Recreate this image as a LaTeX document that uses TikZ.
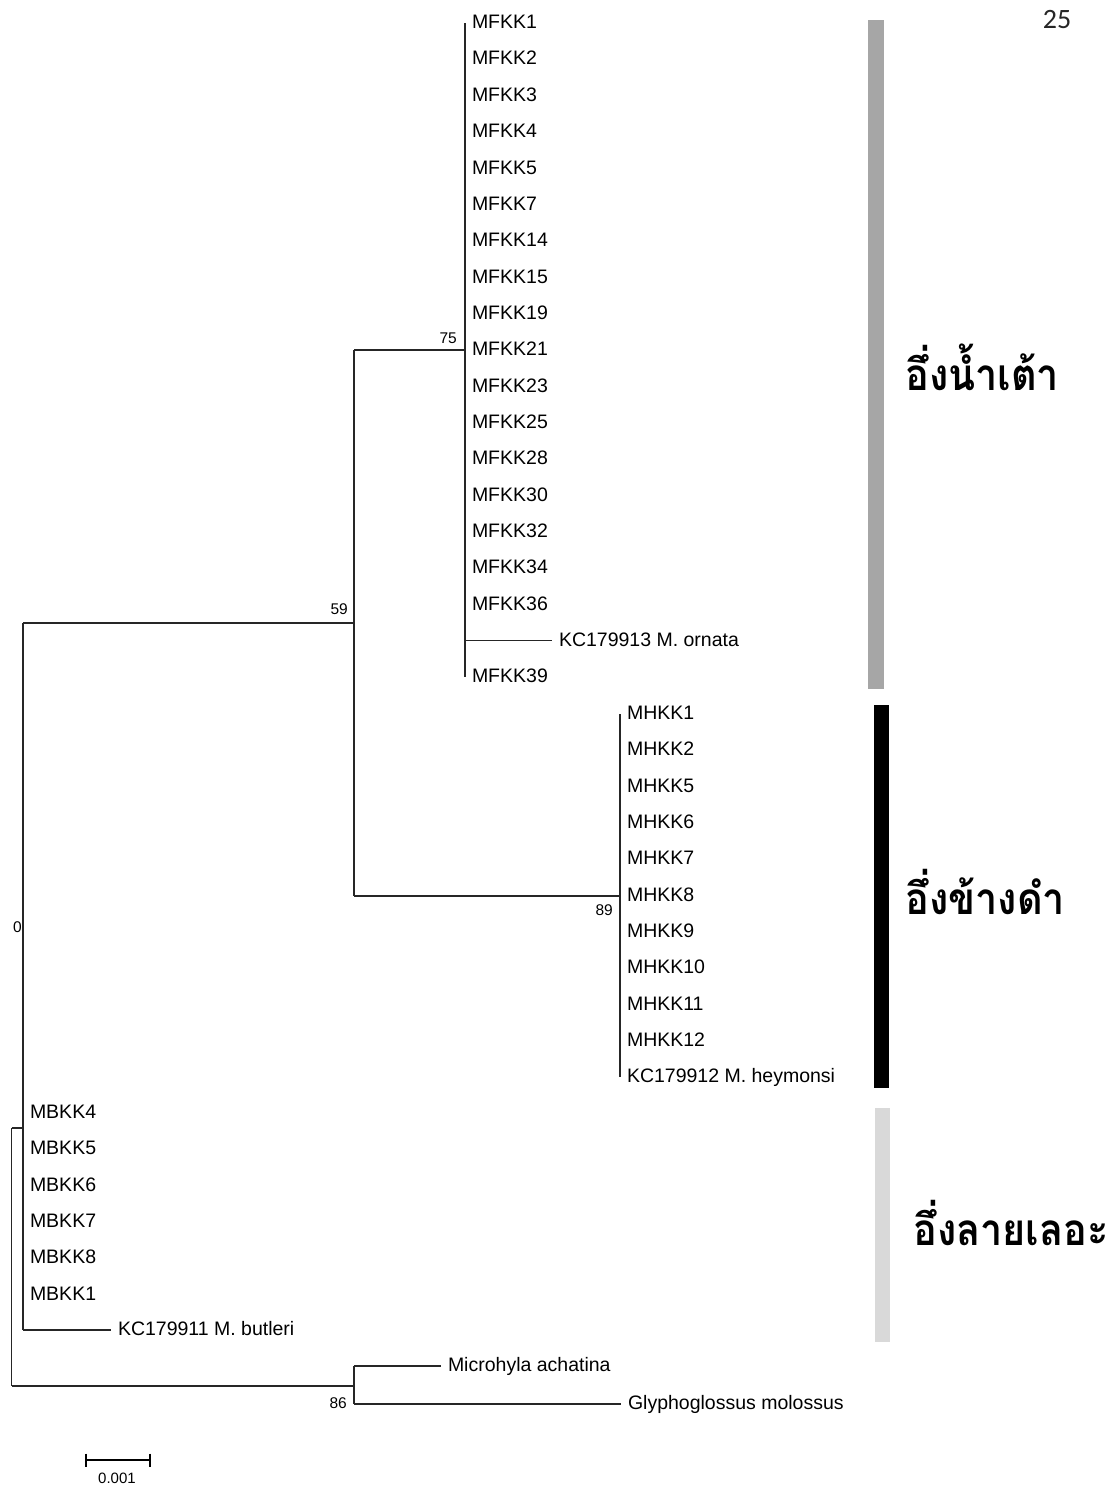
\documentclass[tikz,border=0pt]{standalone}
\usepackage{fontspec}
\setmainfont{Liberation Sans}
\newfontfamily\thaifont[Script=Thai]{Loma}
\newfontfamily\pagefont{Carlito}
\usetikzlibrary{calc}
\definecolor{bargray}{HTML}{A6A6A6}
\definecolor{barlight}{HTML}{D9D9D9}
\newcommand{\thainame}[1]{\scalebox{0.9}[1]{#1}}
\newcommand{\lf}[1]{\raisebox{-2pt}{#1}}
\begin{document}
\begin{tikzpicture}[x=1pt,y=-1pt,
  branch/.style={line width=1.3pt, draw=black!85},
  leaf/.style={anchor=west, inner xsep=7pt, inner ysep=0pt, outer sep=0pt,
    text height=0.72em, text depth=0pt, font=\fontsize{19.5}{20}\selectfont},
  boot/.style={inner sep=0pt, font=\fontsize{15.5}{15.5}\selectfont},
  cladename/.style={anchor=west, inner sep=0pt, font=\thaifont\bfseries\fontsize{44}{48}\selectfont}]
\useasboundingbox (0,0) rectangle (1113,1486);

% internal nodes
\coordinate (nRoot) at (11.5,1257);
\coordinate (nIn) at (23,1128);
\coordinate (n59) at (354,623);
\coordinate (n75) at (465,350);
\coordinate (n89) at (620,896);
\coordinate (nOut) at (354,1386);

% MFKK clade leaves
\foreach \i/\lab in {0/MFKK1,1/MFKK2,2/MFKK3,3/MFKK4,4/MFKK5,5/MFKK7,6/MFKK14,7/MFKK15,8/MFKK19,9/MFKK21,10/MFKK23,11/MFKK25,12/MFKK28,13/MFKK30,14/MFKK32,15/MFKK34,16/MFKK36,18/MFKK39}
  \node[leaf] (f\i) at (465,{23+36.35*\i}) {\lf{\lab}};
\node[leaf] (kc13) at (552,640.5) {\lf{KC179913 M. ornata}};

% MHKK clade leaves
\foreach \i/\lab in {0/MHKK1,1/MHKK2,2/MHKK5,3/MHKK6,4/MHKK7,5/MHKK8,6/MHKK9,7/MHKK10,8/MHKK11,9/MHKK12,10/KC179912 M. heymonsi}
  \node[leaf] (h\i) at (620,{714+36.3*\i}) {\lf{\lab}};

% MBKK leaves
\foreach \i/\lab in {0/MBKK4,1/MBKK5,2/MBKK6,3/MBKK7,4/MBKK8,5/MBKK1}
  \node[leaf] (b\i) at (23,{1113+36.3*\i}) {\lf{\lab}};
\node[leaf] (kc11) at (111,1330) {\lf{KC179911 M. butleri}};

% outgroup
\node[leaf] (micro) at (441,1366) {\lf{Microhyla achatina}};
\node[leaf] (glypho) at (621,1404) {\lf{Glyphoglossus molossus}};

% branches
\draw[branch] (nRoot |- nIn) -- (nRoot |- nOut);
\draw[branch] (nRoot |- nIn) -- (nIn);
\draw[branch] (nRoot |- nOut) -- (nOut);
\draw[branch] (nIn |- n59) -- (nIn |- kc11);
\draw[branch] (nIn |- n59) -- (n59);
\draw[branch] (nIn |- kc11) -- (kc11.west);
\draw[branch] (n75 -| n59) -- (n89 -| n59);
\draw[branch] (n59 |- n75) -- (n75);
\draw[branch] (n59 |- n89) -- (n89);
\draw[branch] (n75 |- f0) -- (n75 |- f18);
\draw[branch] (n75 |- kc13) -- (kc13.west);
\draw[branch] (n89 |- h0) -- (n89 |- h10);
\draw[branch] (nOut |- micro) -- (nOut |- glypho);
\draw[branch] (nOut |- micro) -- (micro.west);
\draw[branch] (nOut |- glypho) -- (glypho.west);

% bootstrap values
\node[boot, anchor=east] (bs75) at (457,338) {75};
\node[boot, anchor=east] (bs59) at (348,609) {59};
\node[boot, anchor=east] (bs89) at (613,910) {89};
\node[boot, anchor=east] (bs0) at (22,927) {0};
\node[boot, anchor=east] (bs86) at (347,1403) {86};

% scale bar
\coordinate (sbL) at (86,1460);
\coordinate (sbR) at (150,1460);
\draw[line width=1.3pt] (sbL) -- (sbR);
\draw[line width=1.3pt] ($(sbL)+(0,-6.5)$) -- ($(sbL)+(0,6.5)$);
\draw[line width=1.3pt] ($(sbR)+(0,-6.5)$) -- ($(sbR)+(0,6.5)$);
\node[inner sep=0pt, font=\fontsize{15}{15}\selectfont] (sblab) at (117,1478) {0.001};

% clade bars
\fill[bargray] (868,20) rectangle (884,689);
\fill[black] (874,705) rectangle (889,1088);
\fill[barlight] (875,1108) rectangle (890,1342);

% clade names
\node[cladename] (cn1) at (905,367) {\thainame{อึ่งน้ำเต้า}};
\node[cladename] (cn2) at (905,892) {\thainame{อึ่งข้างดำ}};
\node[cladename] (cn3) at (913,1223) {\thainame{อึ่งลายเลอะ}};

% page number
\node[inner sep=0pt, font=\pagefont\fontsize{28}{28}\selectfont, text=black!85] (pg) at (1057,20) {25};
\end{tikzpicture}
\end{document}
